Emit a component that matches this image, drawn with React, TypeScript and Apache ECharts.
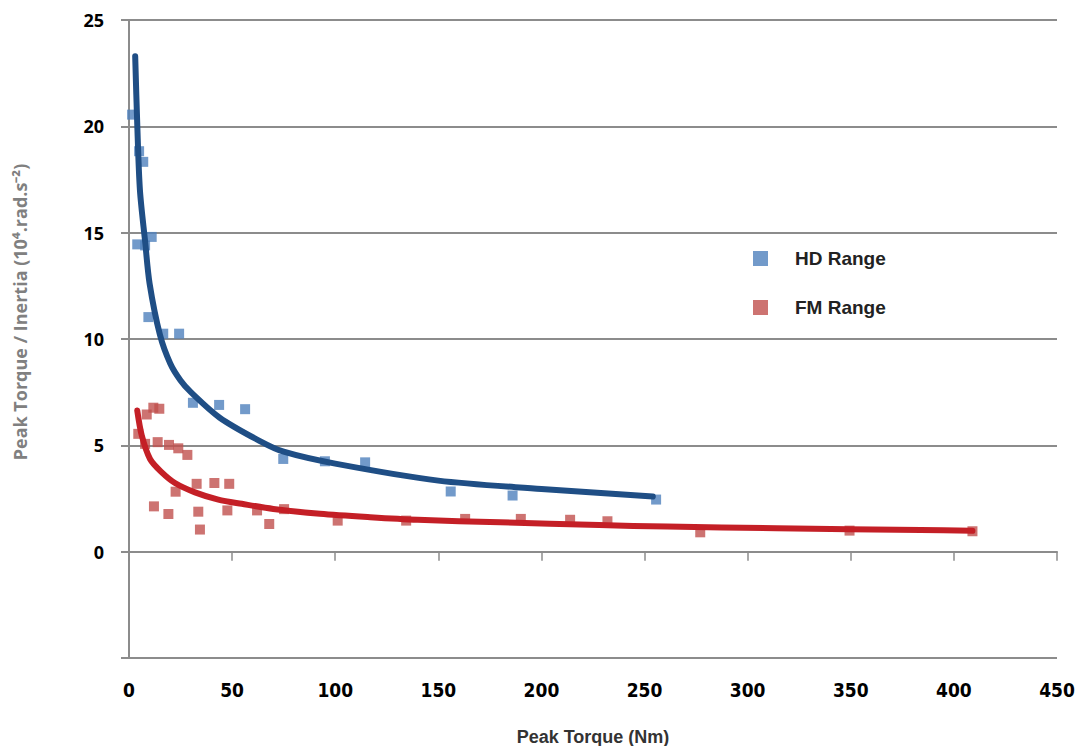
import React, { useEffect, useRef } from "react";
import * as echarts from "echarts";

// Scatter data
const hdX = [1.5, 4.9, 6.9, 4.0, 7.8, 11.0, 9.4, 16.6, 24.3, 31.0, 43.7, 56.3, 74.8, 95.0, 114.5, 156.0, 186.0, 255.6];
const hdY = [20.55, 18.83, 18.33, 14.45, 14.4, 14.8, 11.03, 10.25, 10.25, 7.0, 6.9, 6.7, 4.36, 4.25, 4.2, 2.83, 2.64, 2.45];

const fmX = [4.5, 7.8, 8.6, 11.8, 14.7, 13.9, 19.4, 23.9, 28.3, 32.8, 41.4, 48.6, 22.6, 12.1, 19.1, 33.6, 34.4, 47.7, 62.1, 68.0, 75.2, 101.2, 134.4, 163.0, 190.0, 213.9, 232.0, 277.0, 349.4, 409.0];
const fmY = [5.54, 5.07, 6.45, 6.77, 6.72, 5.15, 5.02, 4.86, 4.55, 3.19, 3.23, 3.19, 2.82, 2.13, 1.77, 1.88, 1.04, 1.94, 1.94, 1.3, 2.0, 1.46, 1.46, 1.54, 1.54, 1.5, 1.43, 0.91, 0.99, 0.96];

// Trend lines
const hdTrendX = [3.0, 4.0, 5.3, 7.8, 10.0, 15.0, 20.0, 25.0, 30.0, 44.0, 63.5, 75.0, 100.0, 150.0, 200.0, 254.0];
const hdTrendY = [23.3, 20.1, 17.0, 14.6, 12.6, 10.2, 8.85, 8.05, 7.5, 6.3, 5.2, 4.7, 4.14, 3.34, 2.95, 2.59];

const fmTrendX = [4.0, 6.2, 10.2, 15.9, 22.3, 32.0, 43.3, 54.7, 70.0, 92.6, 116.9, 140.0, 180.0, 228.0, 261.0, 314.0, 384.0, 409.0];
const fmTrendY = [6.64, 5.46, 4.36, 3.73, 3.23, 2.79, 2.45, 2.25, 2.01, 1.78, 1.62, 1.5, 1.38, 1.25, 1.18, 1.1, 1.02, 0.98];

const seriesNames = ["HD Range", "FM Range"];
const xTitle = "Peak Torque (Nm)";
const yTitle = "Peak Torque / Inertia (10\u2074.rad.s\u207B\u00B2)";

const zip = (xs: number[], ys: number[]) => xs.map((x, i) => [x, ys[i]]);

export default function App() {
  const ref = useRef<HTMLDivElement>(null);
  useEffect(() => {
    if (!ref.current) return;
    const chart = echarts.init(ref.current, null, { renderer: "svg" });
    const grey = "#8c8c8c";
    chart.setOption({
      animation: false,
      backgroundColor: "#ffffff",
      grid: {
        left: 129,
        right: 23,
        top: 20,
        bottom: 88,
        containLabel: false,
        outerBoundsMode: "none",
      },
      legend: {
        orient: "vertical",
        left: 748,
        top: 244,
        itemGap: 30,
        itemWidth: 15,
        itemHeight: 15,
        icon: "rect",
        data: seriesNames,
        textStyle: {
          fontFamily: "Liberation Sans, Arial, sans-serif",
          fontWeight: "bold",
          fontSize: 19,
          color: "#222222",
          padding: [0, 0, 0, 22],
        },
      },
      xAxis: {
        type: "value",
        min: 0,
        max: 450,
        interval: 50,
        name: xTitle,
        nameLocation: "middle",
        nameGap: 70,
        nameTextStyle: {
          fontFamily: "Liberation Sans, Arial, sans-serif",
          fontWeight: "bold",
          fontSize: 18,
          color: "#333333",
        },
        axisLine: { show: true, lineStyle: { color: grey, width: 2 } },
        axisTick: { show: true, length: 9, lineStyle: { color: grey, width: 1.5 } },
        splitLine: { show: false },
        axisLabel: {
          margin: 22,
          fontFamily: "Liberation Sans Narrow, DejaVu Sans Condensed, sans-serif",
          fontWeight: "bold",
          fontSize: 19,
          color: "#000000",
        },
      },
      yAxis: {
        type: "value",
        min: -5,
        max: 25,
        interval: 5,
        axisLine: { show: true, lineStyle: { color: grey, width: 2 } },
        axisTick: { show: true, length: 8, lineStyle: { color: grey, width: 2 } },
        splitLine: { show: true, lineStyle: { color: grey, width: 2 } },
        axisLabel: {
          margin: 25,
          formatter: (v: number) => (v < 0 ? "" : String(v)),
          fontFamily: "Open Sans, Liberation Sans, sans-serif",
          fontWeight: "bold",
          fontSize: 18,
          color: "#000000",
        },
      },
      graphic: [
        {
          type: "text",
          x: 20,
          y: 312,
          rotation: Math.PI / 2,
          style: {
            text: yTitle,
            fontFamily: "Open Sans, Liberation Sans, sans-serif",
            fontWeight: "bold",
            fontSize: 18,
            fill: "#808080",
            align: "center",
            verticalAlign: "middle",
          },
        },
      ],
      series: [
        {
          name: seriesNames[0],
          type: "scatter",
          symbol: "rect",
          symbolSize: 10,
          itemStyle: { color: "#4F81BD" },
          data: zip(hdX, hdY),
          z: 2,
        },
        {
          name: seriesNames[1],
          type: "scatter",
          symbol: "rect",
          symbolSize: 10,
          itemStyle: { color: "#C0504D" },
          data: zip(fmX, fmY),
          z: 2,
        },
        {
          name: "HD trend",
          type: "line",
          showSymbol: false,
          symbol: "none",
          smooth: 0.3,
          lineStyle: { color: "#1F4E85", width: 6, cap: "round", join: "round" },
          data: zip(hdTrendX, hdTrendY),
          z: 3,
        },
        {
          name: "FM trend",
          type: "line",
          showSymbol: false,
          symbol: "none",
          smooth: 0.3,
          lineStyle: { color: "#C41F26", width: 6, cap: "round", join: "round" },
          data: zip(fmTrendX, fmTrendY),
          z: 3,
        },
      ],
    });
    return () => chart.dispose();
  }, []);
  return (
    <div
      ref={ref}
      style={{ position: "fixed", left: 0, top: 0, width: 1080, height: 746 }}
    />
  );
}
